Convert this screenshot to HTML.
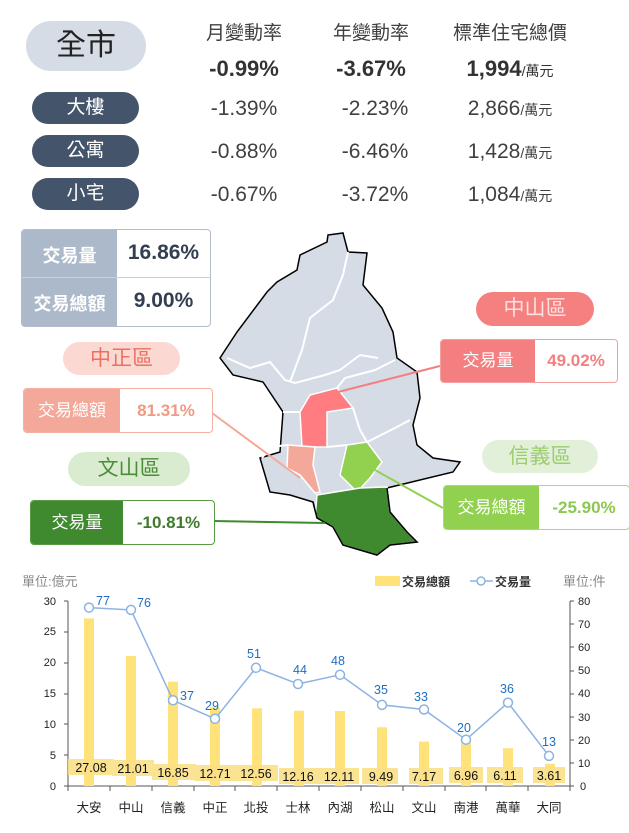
<!DOCTYPE html>
<html><head><meta charset="utf-8">
<style>
body{margin:0;width:629px;height:833px;background:#fff;position:relative;overflow:hidden;font-family:"Liberation Sans","Noto Sans CJK TC",sans-serif;}
.a{position:absolute;}
.pill{position:absolute;border-radius:20px;text-align:center;}
.dk{background:#44546a;color:#fff;font-size:19px;width:107px;height:32px;line-height:32px;left:32px;}
.hd{position:absolute;top:18px;font-size:19px;color:#404040;width:140px;text-align:center;}
.v{position:absolute;font-size:21px;color:#404040;width:140px;text-align:center;}
.b{font-weight:bold;font-size:22px;color:#333;}
.u{font-size:14px;}
.box{position:absolute;border:1px solid;border-radius:4px;overflow:hidden;background:#fff;}
.box .l{position:absolute;left:0;top:0;bottom:0;color:#fff;text-align:center;font-size:17px;}
.box .r{position:absolute;top:0;bottom:0;right:0;text-align:center;font-weight:bold;font-size:17px;}
</style></head><body>
<div class="pill" style="left:26px;top:21px;width:120px;height:50px;line-height:50px;background:#d6dce5;font-size:30px;color:#222;border-radius:25px">全市</div>
<div class="hd" style="left:174px">月變動率</div>
<div class="hd" style="left:301px">年變動率</div>
<div class="hd" style="left:440px;width:140px">標準住宅總價</div>
<div class="v b" style="left:174px;top:56px">-0.99%</div>
<div class="v b" style="left:301px;top:56px">-3.67%</div>
<div class="v b" style="left:440px;top:56px">1,994<span class="u" style="font-weight:normal">/萬元</span></div>
<div class="pill dk" style="top:92px">大樓</div>
<div class="pill dk" style="top:135px">公寓</div>
<div class="pill dk" style="top:178px">小宅</div>
<div class="v" style="left:174px;top:97px">-1.39%</div><div class="v" style="left:305px;top:97px">-2.23%</div><div class="v" style="left:440px;top:97px">2,866<span class="u">/萬元</span></div>
<div class="v" style="left:174px;top:140px">-0.88%</div><div class="v" style="left:305px;top:140px">-6.46%</div><div class="v" style="left:440px;top:140px">1,428<span class="u">/萬元</span></div>
<div class="v" style="left:174px;top:183px">-0.67%</div><div class="v" style="left:305px;top:183px">-3.72%</div><div class="v" style="left:440px;top:183px">1,084<span class="u">/萬元</span></div>

<div class="box" style="left:21px;top:229px;width:188px;height:96px;border-color:#b4bccb;">
<div class="a" style="left:0;top:0;width:95px;height:96px;background:#acb9ca"></div>
<div class="a" style="left:0;top:47px;width:188px;height:1px;background:#c8cfda"></div>
<div class="a" style="left:0;top:12px;width:95px;text-align:center;color:#fff;font-weight:bold;font-size:18px">交易量</div>
<div class="a" style="left:0;top:60px;width:95px;text-align:center;color:#fff;font-weight:bold;font-size:18px">交易總額</div>
<div class="a" style="left:95px;top:11px;width:93px;text-align:center;color:#333f50;font-weight:bold;font-size:21px">16.86%</div>
<div class="a" style="left:95px;top:59px;width:93px;text-align:center;color:#333f50;font-weight:bold;font-size:21px">9.00%</div>
</div>

<svg class="a" style="left:0;top:0" width="629" height="560">
<polygon fill="#d6dce5" stroke="#000" stroke-width="1.5" points="328,235 343,233 348,252 367,253 363,285 382,308 393,332 397,358 417,372 420,398 413,425 417,445 433,458 460,462 453,472 387,488 390,512 407,532 417,542 390,545 377,555 343,545 333,527 317,518 313,502 290,495 270,492 260,458 280,452 283,412 263,382 233,375 220,358 237,332 267,292 277,282 297,270 300,255 327,242"/>
<g fill="none" stroke="#fff" stroke-width="2">
<polyline points="348,252 343,275 333,300 310,318 302,350 290,382"/>
<polyline points="227,358 250,368 270,362 285,380 295,383 325,375 340,370 360,355 378,358"/>
<polyline points="337,388 345,378 375,370 395,360"/>
<polyline points="353,408 360,430 367,442 395,428 410,420"/>
<polyline points="283,412 300,412"/>
<polyline points="327,447 347,445"/>
<polyline points="288,445 270,447 262,458"/>
</g>
<polygon fill="#ff7c80" stroke="#fff" stroke-width="1.5" points="310,395 337,388 353,408 327,412 327,447 302,447 300,412"/>
<polygon fill="#f4a89a" stroke="#fff" stroke-width="1.5" points="288,445 315,447 313,465 320,492 315,493 300,475 287,468"/>
<polygon fill="#92d050" stroke="#fff" stroke-width="1.5" points="347,445 367,442 382,462 370,478 357,492 340,475"/>
<polygon fill="#3f8a2f" stroke="#fff" stroke-width="1.5" points="317,495 360,488 387,487 390,512 407,532 417,542 390,545 377,555 343,545 333,527 315,518"/>
<polyline fill="none" stroke="#000" stroke-width="1.5" points="387,488 390,512 407,532 417,542 390,545 377,555 343,545 333,527 317,518 313,502"/>
<line x1="440" y1="366" x2="338" y2="392" stroke="#f47f80" stroke-width="2"/>
<line x1="212" y1="413" x2="300" y2="478" stroke="#f4a89a" stroke-width="2"/>
<line x1="443" y1="508" x2="375" y2="470" stroke="#92d050" stroke-width="2"/>
<line x1="214" y1="521" x2="325" y2="523" stroke="#3f8a2f" stroke-width="2"/>
</svg>

<div class="pill" style="left:476px;top:292px;width:118px;height:34px;line-height:34px;background:#f4817f;font-size:21px;color:#fde0e0">中山區</div>
<div class="box" style="left:440px;top:339px;width:176px;height:42px;border-color:#f4a0a0"><div class="l" style="width:94px;background:#f47f80;line-height:42px">交易量</div><div class="r" style="width:82px;color:#f47f80;line-height:42px">49.02%</div></div>
<div class="pill" style="left:63px;top:342px;width:117px;height:33px;line-height:33px;background:#fbd9d2;color:#ec7060;font-size:21px">中正區</div>
<div class="box" style="left:23px;top:388px;width:188px;height:43px;border-color:#f4b0a0"><div class="l" style="width:96px;background:#f4a89a;line-height:43px">交易總額</div><div class="r" style="width:92px;color:#f09a84;line-height:43px">81.31%</div></div>
<div class="pill" style="left:68px;top:452px;width:122px;height:34px;line-height:34px;background:#d9ecd0;color:#4a8c38;font-size:21px">文山區</div>
<div class="box" style="left:30px;top:500px;width:183px;height:43px;border-color:#5a9a45"><div class="l" style="width:92px;background:#3f8a2f;line-height:43px">交易量</div><div class="r" style="width:91px;color:#3f7a2f;line-height:43px">-10.81%</div></div>
<div class="pill" style="left:482px;top:440px;width:116px;height:33px;line-height:33px;background:#e2f0d9;color:#9ccc70;font-size:21px">信義區</div>
<div class="box" style="left:443px;top:485px;width:185px;height:43px;border-color:#a8d880"><div class="l" style="width:95px;background:#92d050;line-height:43px">交易總額</div><div class="r" style="width:90px;color:#8cc850;line-height:43px">-25.90%</div></div>

<svg class="a" style="left:0;top:560px" width="629" height="273" font-family="Liberation Sans,Noto Sans CJK TC,sans-serif">
<text x="22" y="26" font-size="13" fill="#888">單位:億元</text>
<text x="563" y="26" font-size="13" fill="#888">單位:件</text>
<rect x="375" y="16" width="25" height="10" fill="#ffe27a"/><text x="402" y="26" font-size="12" font-weight="bold" fill="#333">交易總額</text>
<line x1="470" y1="21" x2="493" y2="21" stroke="#8db3e2" stroke-width="1.5"/><circle cx="481" cy="21" r="4" fill="#fff" stroke="#8db3e2" stroke-width="1.5"/><text x="495" y="26" font-size="12" font-weight="bold" fill="#333">交易量</text>
<g stroke="#555" stroke-width="1"><line x1="68" y1="41" x2="68" y2="226"/><line x1="570" y1="41" x2="570" y2="226"/><line x1="68" y1="226" x2="570" y2="226"/>
<path d="M64 41H68M64 72H68M64 103H68M64 134H68M64 164H68M64 195H68M64 226H68M570 41H574M570 64H574M570 87H574M570 111H574M570 134H574M570 157H574M570 180H574M570 203H574M570 226H574M68 226V231M110 226V231M152 226V231M194 226V231M235 226V231M277 226V231M319 226V231M361 226V231M403 226V231M445 226V231M486 226V231M528 226V231M570 226V231"/></g>
<g font-size="11" fill="#222" text-anchor="end">
<text x="56" y="230">0</text><text x="56" y="199">5</text><text x="56" y="168">10</text><text x="56" y="137">15</text><text x="56" y="106">20</text><text x="56" y="75">25</text><text x="56" y="45">30</text></g>
<g font-size="11" fill="#222">
<text x="580" y="230">0</text><text x="578" y="207">10</text><text x="578" y="184">20</text><text x="578" y="161">30</text><text x="578" y="137">40</text><text x="578" y="114">50</text><text x="578" y="91">60</text><text x="578" y="68">70</text><text x="578" y="45">80</text></g>
<g fill="#ffe27a">
<rect x="84" y="58.4" width="10" height="167.6"/><rect x="126" y="96" width="10" height="130"/><rect x="168" y="121.7" width="10" height="104.3"/><rect x="210" y="147.3" width="10" height="78.7"/><rect x="252" y="148.3" width="10" height="77.7"/><rect x="294" y="150.7" width="10" height="75.3"/><rect x="335" y="151" width="10" height="75"/><rect x="377" y="167.3" width="10" height="58.7"/><rect x="419" y="181.6" width="10" height="44.4"/><rect x="461" y="182.9" width="10" height="43.1"/><rect x="503" y="188.2" width="10" height="37.8"/><rect x="545" y="203.7" width="10" height="22.3"/></g>
<g fill="#fbe089" opacity="0.9">
<rect x="68" y="199" width="46" height="16"/><rect x="112" y="200" width="42" height="16"/><rect x="152" y="204" width="44" height="16"/><rect x="194" y="205" width="42" height="16"/><rect x="236" y="205" width="42" height="16"/><rect x="279" y="208" width="40" height="16"/><rect x="319" y="208" width="40" height="16"/><rect x="362" y="208" width="36" height="16"/><rect x="409" y="208" width="34" height="16"/><rect x="449" y="207" width="34" height="16"/><rect x="487" y="207" width="36" height="16"/><rect x="533" y="207" width="32" height="16"/></g>
<g font-size="12.5" fill="#111" text-anchor="middle">
<text x="91" y="212">27.08</text><text x="133" y="213">21.01</text><text x="173" y="217">16.85</text><text x="215" y="218">12.71</text><text x="256" y="218">12.56</text><text x="298" y="221">12.16</text><text x="339" y="221">12.11</text><text x="381" y="221">9.49</text><text x="424" y="221">7.17</text><text x="466" y="220">6.96</text><text x="505" y="220">6.11</text><text x="549" y="220">3.61</text></g>
<polyline fill="none" stroke="#8db3e2" stroke-width="1.5" points="89,47.6 131,49.9 173,140.3 215,158.8 256,107.8 298,124 340,114.8 382,144.9 424,149.5 466,179.7 508,142.6 549,195.9"/>
<g fill="#fff" stroke="#8db3e2" stroke-width="1.5">
<circle cx="89" cy="47.6" r="4.5"/><circle cx="131" cy="49.9" r="4.5"/><circle cx="173" cy="140.3" r="4.5"/><circle cx="215" cy="158.8" r="4.5"/><circle cx="256" cy="107.8" r="4.5"/><circle cx="298" cy="124" r="4.5"/><circle cx="340" cy="114.8" r="4.5"/><circle cx="382" cy="144.9" r="4.5"/><circle cx="424" cy="149.5" r="4.5"/><circle cx="466" cy="179.7" r="4.5"/><circle cx="508" cy="142.6" r="4.5"/><circle cx="549" cy="195.9" r="4.5"/></g>
<g font-size="12.5" fill="#1f6fc0" text-anchor="middle">
<text x="103" y="45">77</text><text x="144" y="47">76</text><text x="187" y="140">37</text><text x="212" y="150">29</text><text x="254" y="98">51</text><text x="300" y="114">44</text><text x="338" y="105">48</text><text x="381" y="134">35</text><text x="421" y="141">33</text><text x="464" y="172">20</text><text x="507" y="133">36</text><text x="549" y="186">13</text></g>
<g font-size="12.5" fill="#222" text-anchor="middle">
<text x="89" y="252">大安</text><text x="131" y="252">中山</text><text x="173" y="252">信義</text><text x="215" y="252">中正</text><text x="256" y="252">北投</text><text x="298" y="252">士林</text><text x="340" y="252">內湖</text><text x="382" y="252">松山</text><text x="424" y="252">文山</text><text x="466" y="252">南港</text><text x="508" y="252">萬華</text><text x="549" y="252">大同</text></g>
</svg>
</body></html>
